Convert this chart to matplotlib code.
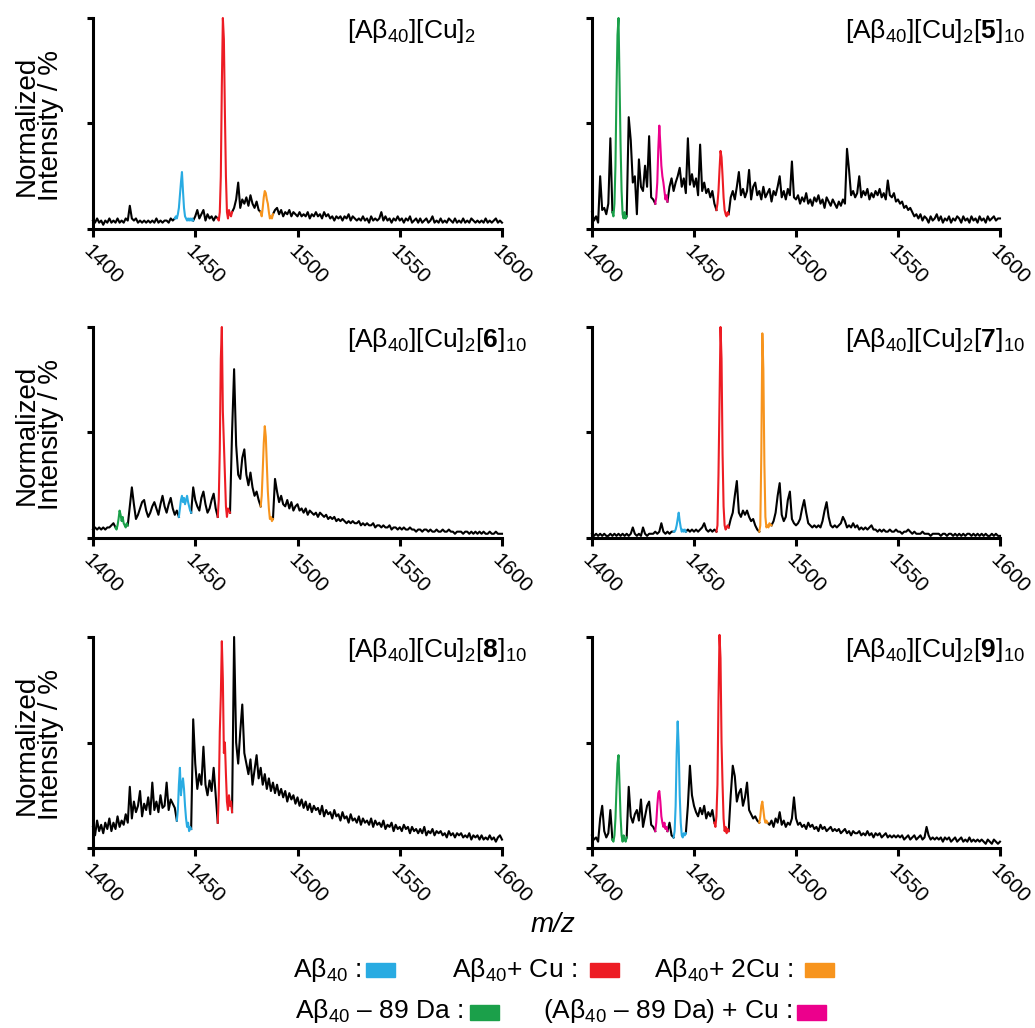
import numpy as np
import matplotlib
matplotlib.use("Agg")
import matplotlib.pyplot as plt
from matplotlib.patches import Rectangle

plt.rcParams['font.family'] = ['Liberation Sans', 'DejaVu Sans']
plt.rcParams['mathtext.fontset'] = 'custom'
plt.rcParams['mathtext.rm'] = 'Liberation Sans'
plt.rcParams['mathtext.it'] = 'Liberation Sans:italic'
plt.rcParams['mathtext.bf'] = 'Liberation Sans:bold'
plt.rcParams['mathtext.default'] = 'regular'

# m/z grid of the black traces (1 Da steps) and of the coloured peaks (0.5 Da)
mz_start = 1400
mz_end = 1600
peak_step = 0.5

colors = {"blue": "#29ABE2", "red": "#ED1C24", "orange": "#F7941D",
          "green": "#1BA04A", "magenta": "#EC008C"}

# ---- [Ab40][Cu]2 ----
p1_black = [4, 3, 5, 3, 4, 2, 4, 3, 5, 3,
            4, 3, 5, 3, 4, 3, 5, 4, 11, 5,
            4, 5, 3, 4, 3, 4, 3, 4, 3, 4,
            3, 5, 3, 4, 3, 4, 4, 3, 5, 4,
            5, 5, 5, 5, 5, 5, 5, 5, 5, 4,
            6, 9, 5, 7, 9, 4, 7, 5, 6, 4,
            6, 5, 5, 5, 5, 5, 5, 5, 8, 10,
            14, 22, 10, 14, 12, 15, 11, 16, 12, 10,
            13, 9, 8, 8, 8, 8, 8, 8, 7, 9,
            10, 7, 9, 6, 8, 7, 9, 6, 8, 7,
            6, 8, 6, 7, 6, 8, 5, 7, 6, 8,
            6, 7, 5, 8, 6, 7, 5, 6, 4, 6,
            5, 6, 4, 6, 5, 7, 4, 6, 5, 4,
            5, 4, 6, 4, 5, 3, 6, 4, 5, 4,
            5, 8, 4, 6, 4, 5, 3, 5, 4, 6,
            4, 5, 3, 5, 4, 6, 3, 4, 5, 3,
            5, 3, 4, 5, 3, 4, 6, 3, 4, 3,
            5, 3, 4, 3, 5, 4, 3, 5, 3, 4,
            3, 5, 3, 4, 3, 5, 4, 3, 4, 3,
            4, 3, 5, 3, 4, 3, 4, 5, 3, 4,
            3]
p1_peaks = [("blue", 1440, [5, 6, 5, 7, 10, 16, 22, 27, 18, 10, 6, 5, 4, 5, 4, 5, 4, 5, 4]),
            ("red", 1461, [5, 4, 8, 25, 68, 100, 90, 55, 25, 8, 5, 9, 7, 6, 8]),
            ("orange", 1482, [8, 6, 10, 15, 18, 17, 14, 12, 8, 5, 6, 5, 7])]

# ---- [Ab40][Cu]2[5]10 ----
p2_black = [8, 4, 6, 3, 25, 9, 10, 7, 12, 43,
            8, 8, 8, 8, 8, 8, 8, 6, 53, 42,
            22, 25, 7, 33, 20, 18, 30, 20, 44, 15,
            14, 12, 12, 12, 12, 12, 12, 13, 20, 24,
            18, 22, 25, 29, 20, 24, 17, 43, 21, 26,
            20, 24, 16, 40, 18, 22, 17, 19, 15, 18,
            12, 9, 9, 9, 9, 9, 9, 7, 15, 18,
            14, 20, 27, 16, 19, 15, 18, 28, 14, 20,
            22, 16, 18, 14, 20, 15, 17, 19, 13, 18,
            16, 20, 25, 15, 18, 14, 19, 16, 32, 15,
            14, 16, 12, 15, 13, 17, 12, 14, 11, 15,
            13, 16, 12, 14, 10, 15, 13, 11, 14, 12,
            10, 13, 11, 14, 12, 38, 28, 16, 18, 15,
            17, 25, 15, 18, 16, 19, 14, 17, 15, 18,
            16, 19, 15, 17, 14, 23, 16, 15, 17, 13,
            14, 12, 13, 10, 11, 9, 10, 8, 6, 7,
            5, 7, 4, 6, 5, 3, 6, 4, 5, 7,
            4, 6, 3, 5, 4, 6, 3, 5, 4, 6,
            5, 3, 6, 4, 5, 3, 6, 4, 5, 3,
            6, 4, 5, 3, 6, 4, 5, 6, 4, 5,
            5]
p2_peaks = [("green", 1410, [8, 6, 12, 30, 65, 92, 100, 70, 40, 18, 7, 5, 8, 5, 6]),
            ("magenta", 1431, [12, 15, 22, 38, 49, 40, 30, 25, 22, 18, 14, 16, 13]),
            ("red", 1461, [9, 12, 18, 28, 37, 34, 25, 15, 9, 7, 6, 8, 7])]

# ---- [Ab40][Cu]2[6]10 ----
p3_black = [4, 5, 4, 5, 4, 5, 4, 5, 5, 6,
            7, 5, 5, 5, 5, 5, 5, 6, 15, 24,
            16, 9, 11, 14, 17, 18, 13, 10, 12, 15,
            17, 14, 11, 16, 20, 15, 12, 16, 19, 14,
            11, 13, 10, 10, 10, 10, 10, 10, 12, 24,
            18, 15, 13, 19, 22, 16, 12, 14, 18, 21,
            14, 10, 10, 10, 10, 10, 10, 12, 50, 80,
            44, 30, 28, 38, 42, 30, 25, 31, 24, 20,
            22, 18, 15, 15, 15, 15, 15, 15, 9, 28,
            22, 17, 20, 16, 15, 18, 14, 17, 13, 15,
            16, 13, 14, 12, 14, 11, 13, 12, 11, 12,
            10, 12, 11, 10, 11, 9, 10, 9, 10, 8,
            9, 8, 9, 8, 7, 8, 7, 8, 7, 7,
            8, 6, 7, 6, 7, 6, 6, 7, 5, 6,
            6, 5, 6, 5, 5, 6, 4, 5, 5, 4,
            5, 4, 5, 4, 4, 5, 4, 4, 3, 4,
            4, 3, 4, 4, 3, 4, 3, 3, 4, 3,
            3, 4, 3, 3, 4, 3, 3, 2, 3, 3,
            3, 2, 3, 3, 2, 3, 2, 3, 2, 3,
            2, 3, 2, 2, 3, 2, 2, 3, 2, 2,
            2]
p3_peaks = [("green", 1411, [5, 4, 6, 9, 13, 11, 8, 10, 7, 6, 5, 7, 6]),
            ("blue", 1442, [10, 14, 18, 20, 17, 19, 16, 18, 20, 17, 15, 13, 12]),
            ("red", 1461, [10, 18, 42, 85, 100, 60, 45, 30, 15, 10, 14, 13, 12]),
            ("orange", 1482, [15, 20, 32, 45, 53, 48, 35, 22, 14, 9, 10, 8, 9])]

# ---- [Ab40][Cu]2[7]10 ----
p4_black = [2, 1, 2, 1, 2, 1, 2, 1, 1, 2,
            1, 2, 1, 2, 1, 2, 1, 2, 1, 2,
            5, 2, 1, 2, 1, 5, 2, 1, 2, 2,
            2, 3, 2, 3, 7, 3, 2, 3, 2, 3,
            3, 3, 3, 3, 3, 3, 3, 4, 3, 4,
            3, 4, 3, 4, 5, 7, 4, 3, 4, 3,
            4, 3, 3, 3, 3, 3, 3, 5, 9, 12,
            20, 27, 12, 10, 13, 11, 13, 10, 8, 9,
            6, 4, 3, 3, 3, 3, 3, 3, 6, 8,
            12, 20, 26, 11, 8, 10, 18, 22, 9, 7,
            6, 7, 9, 14, 18, 12, 7, 6, 5, 6,
            5, 6, 5, 8, 13, 17, 10, 6, 5, 6,
            5, 6, 7, 10, 8, 5, 6, 5, 7, 5,
            6, 4, 5, 4, 5, 4, 5, 6, 4, 4,
            3, 4, 3, 4, 3, 3, 4, 3, 3, 4,
            3, 3, 2, 3, 3, 4, 3, 2, 3, 2,
            2, 2, 3, 2, 2, 2, 1, 2, 2, 2,
            2, 1, 2, 2, 1, 2, 2, 1, 2, 1,
            2, 1, 2, 1, 2, 2, 1, 2, 1, 2,
            1, 2, 1, 2, 1, 1, 2, 1, 2, 1,
            1]
p4_peaks = [("blue", 1440, [3, 3, 4, 6, 9, 12, 8, 5, 3, 4, 3, 4, 3]),
            ("red", 1461, [3, 6, 30, 64, 100, 85, 40, 15, 6, 4, 5, 6, 5]),
            ("orange", 1482, [3, 6, 40, 97, 80, 35, 10, 5, 6, 5, 7, 6, 6])]

# ---- [Ab40][Cu]2[8]10 ----
p5_black = [10, 6, 13, 8, 11, 7, 12, 9, 14, 8,
            12, 9, 15, 10, 13, 11, 16, 12, 29, 14,
            22, 17, 20, 27, 15, 21, 18, 24, 16, 31,
            18, 22, 17, 25, 19, 20, 31, 18, 23, 21,
            19, 13, 13, 13, 13, 13, 13, 13, 9, 61,
            40, 28, 35, 30, 48, 30, 25, 32, 27, 38,
            25, 12, 12, 12, 12, 12, 12, 12, 17, 100,
            50, 40, 55, 68, 45, 40, 35, 42, 30, 37,
            44, 33, 38, 30, 35, 28, 33, 27, 31, 26,
            30, 25, 28, 24, 27, 22, 26, 23, 25, 21,
            24, 20, 23, 19, 22, 18, 21, 17, 20, 18,
            19, 16, 20, 15, 18, 16, 17, 14, 18, 15,
            16, 13, 17, 14, 15, 12, 16, 13, 14, 12,
            15, 11, 14, 12, 13, 11, 14, 10, 13, 11,
            12, 10, 13, 9, 11, 10, 12, 8, 11, 9,
            10, 8, 11, 9, 10, 7, 10, 8, 9, 7,
            9, 7, 10, 6, 8, 7, 9, 6, 8, 7,
            8, 6, 7, 5, 8, 6, 7, 5, 7, 6,
            7, 5, 6, 5, 7, 4, 6, 5, 6, 4,
            6, 4, 5, 4, 6, 4, 5, 3, 5, 6,
            4]
p5_peaks = [("blue", 1441, [13, 18, 30, 38, 25, 30, 33, 28, 20, 14, 10, 12, 8, 10, 9]),
            ("red", 1461, [12, 25, 55, 72, 98, 80, 45, 50, 35, 22, 18, 25, 20, 22, 17])]

# ---- [Ab40][Cu]2[9]10 ----
p6_black = [6, 4, 5, 3, 14, 20, 8, 5, 7, 18,
            4, 4, 4, 4, 4, 4, 4, 5, 29, 15,
            12, 16, 18, 13, 23, 10, 15, 20, 22, 11,
            10, 8, 8, 8, 8, 8, 8, 8, 12, 6,
            5, 5, 5, 5, 5, 5, 7, 20, 39, 25,
            20, 17, 15, 19, 16, 20, 14, 17, 15, 18,
            12, 12, 12, 12, 12, 12, 12, 8, 25, 39,
            34, 22, 26, 28, 20, 24, 31, 18, 16, 14,
            15, 13, 12, 12, 12, 12, 12, 11, 13, 10,
            14, 12, 17, 11, 13, 10, 12, 11, 14, 24,
            14, 11, 12, 10, 11, 9, 12, 10, 11, 9,
            10, 8, 11, 9, 10, 8, 9, 10, 8, 9,
            8, 9, 7, 8, 9, 7, 8, 6, 8, 7,
            7, 8, 6, 7, 6, 8, 6, 7, 5, 7,
            6, 7, 5, 6, 7, 5, 6, 5, 6, 5,
            6, 5, 6, 4, 5, 6, 4, 5, 6, 4,
            5, 6, 4, 5, 10, 6, 4, 5, 4, 5,
            4, 5, 3, 5, 4, 5, 3, 4, 5, 3,
            4, 5, 3, 4, 3, 5, 3, 4, 3, 4,
            3, 4, 3, 2, 4, 3, 2, 4, 3, 2,
            3]
p6_peaks = [("green", 1410, [4, 3, 6, 14, 28, 40, 44, 30, 15, 6, 3, 6, 4, 3, 5]),
            ("magenta", 1431, [8, 12, 20, 26, 27, 22, 15, 12, 10, 12, 9, 10, 8]),
            ("blue", 1440, [5, 8, 20, 45, 60, 48, 25, 12, 6, 5, 7, 6, 7]),
            ("red", 1460, [12, 10, 15, 30, 70, 101, 90, 50, 30, 14, 8, 10, 7, 9, 8]),
            ("orange", 1482, [12, 15, 20, 22, 18, 14, 12, 13, 12])]

titles = ["[Aβ$_{40}$][Cu]$_{2}$",
          r"[Aβ$_{40}$][Cu]$_{2}$[$\mathbf{5}$]$_{10}$",
          r"[Aβ$_{40}$][Cu]$_{2}$[$\mathbf{6}$]$_{10}$",
          r"[Aβ$_{40}$][Cu]$_{2}$[$\mathbf{7}$]$_{10}$",
          r"[Aβ$_{40}$][Cu]$_{2}$[$\mathbf{8}$]$_{10}$",
          r"[Aβ$_{40}$][Cu]$_{2}$[$\mathbf{9}$]$_{10}$"]

blacks = [p1_black, p2_black, p3_black, p4_black, p5_black, p6_black]
peaks = [p1_peaks, p2_peaks, p3_peaks, p4_peaks, p5_peaks, p6_peaks]

legend_row1 = [("Aβ$_{40}$ :", "blue"), ("Aβ$_{40}$+ Cu :", "red"), ("Aβ$_{40}$+ 2Cu :", "orange")]
legend_row2 = [("Aβ$_{40}$ – 89 Da :", "green"), ("(Aβ$_{40}$ – 89 Da) + Cu :", "magenta")]

W, H = 1035, 1028
fig = plt.figure(figsize=(W / 100, H / 100), dpi=100)

col_left = [93, 592]
col_width = [409, 408]
row_top = [18, 327, 637]
row_h = 211

mz = np.arange(mz_start, mz_end + 1)

for i in range(6):
    r, c = i // 2, i % 2
    ax = fig.add_axes([col_left[c] / W, 1 - (row_top[r] + row_h) / H,
                       col_width[c] / W, row_h / H])
    y = np.array(blacks[i], dtype=float)
    # hide the black trace under the coloured peaks
    for name, start, vals in peaks[i]:
        end = start + (len(vals) - 1) * peak_step
        y[(mz > start) & (mz < end)] = np.nan
    ax.plot(mz, y, color="black", lw=1.5, clip_on=False)
    for name, start, vals in peaks[i]:
        px = start + np.arange(len(vals)) * peak_step
        ax.plot(px, vals, color=colors[name], lw=1.5, clip_on=False)

    ax.set_xlim(mz_start, mz_end)
    ax.set_ylim(0, 100)
    ax.spines["top"].set_visible(False)
    ax.spines["right"].set_visible(False)
    ax.spines["left"].set_linewidth(2.2)
    ax.spines["bottom"].set_linewidth(2.2)
    ax.set_yticks([0, 50, 100])
    ax.tick_params(axis="y", length=4, width=2.2, labelleft=False)
    ax.set_xticks(range(1400, 1601, 50))
    ax.tick_params(axis="x", length=6, width=2.2, labelsize=15, pad=3)
    for lbl in ax.get_xticklabels():
        lbl.set_rotation(-45)
        lbl.set_ha("left")
        lbl.set_va("top")
        lbl.set_rotation_mode("anchor")

    ax.text(0.621, 1.005, titles[i], transform=ax.transAxes, ha="left", va="top",
            fontsize=19)

    if c == 0:
        yc = 1 - (row_top[r] + row_h / 2 + 2) / H
        fig.text(39 / W, yc, "Normalized\nIntensity / %", rotation=90,
                 ha="center", va="center", fontsize=20, linespacing=0.95)

fig.text(553 / W, 1 - 925 / H, "m/z", style="italic", ha="center", va="center", fontsize=20)

# legend: text followed by a colour box
row1_x = [293, 452, 654]
row1_box = [366, 590, 805]
for (txt, name), tx, bx in zip(legend_row1, row1_x, row1_box):
    fig.text(tx / W, 1 - 977 / H, txt, ha="left", va="baseline", fontsize=19)
    fig.add_artist(Rectangle((bx / W, 1 - 977 / H), 29 / W, 14 / H,
                             transform=fig.transFigure, color=colors[name]))
row2_x = [295, 543]
row2_box = [470, 797]
for (txt, name), tx, bx in zip(legend_row2, row2_x, row2_box):
    fig.text(tx / W, 1 - 1018 / H, txt, ha="left", va="baseline", fontsize=19)
    fig.add_artist(Rectangle((bx / W, 1 - 1020 / H), 29 / W, 15 / H,
                             transform=fig.transFigure, color=colors[name]))

fig.savefig("out.png", dpi=100)
